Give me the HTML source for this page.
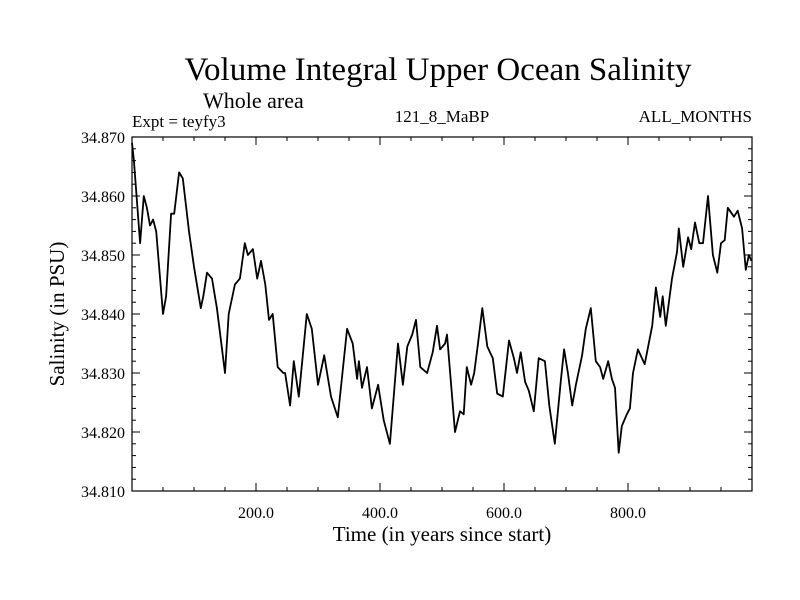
<!DOCTYPE html>
<html><head><meta charset="utf-8"><style>
body{margin:0;background:#fff}
svg{display:block;font-family:"Liberation Serif",serif}
</style></head><body>
<svg id="chart" width="800" height="600" viewBox="0 0 800 600">
<rect width="800" height="600" fill="#fff"/>
<text x="438" y="80" font-size="33" text-anchor="middle">Volume Integral Upper Ocean Salinity</text>
<text x="203" y="108" font-size="22">Whole area</text>
<text x="132" y="127" font-size="17">Expt = teyfy3</text>
<text x="442" y="122" font-size="17" text-anchor="middle">121_8_MaBP</text>
<text x="752" y="122" font-size="17" text-anchor="end">ALL_MONTHS</text>
<text x="442" y="541" font-size="21" text-anchor="middle">Time (in years since start)</text>
<text transform="translate(64,314) rotate(-90)" font-size="21" text-anchor="middle">Salinity (in PSU)</text>
<g id="axes"></g>
<path id="series" fill="none" stroke="#000" stroke-width="1.8" stroke-linejoin="round"/>
<rect x="132" y="137" width="620" height="354" fill="none" stroke="#000" stroke-width="1.2"/>
</svg>
<script>
const years=[0,3,8,13,19,24,29,34,39,50,55,63,68,76,82,92,100,111,115,121,129,137,150,156,166,174,182,187,195,202,208,215,221,227,235,244,247,255,261,269,282,290,300,310,321,332,347,356,363,366,371,379,387,397,406,416,429,437,444,452,458,465,476,485,492,497,505,508,521,529,535,540,547,552,558,565,573,582,589,598,608,616,621,627,634,640,648,656,666,673,682,692,697,703,710,716,726,732,740,748,755,760,768,774,779,785,790,798,803,808,816,827,839,845,852,856,861,871,879,882,889,897,902,908,915,921,929,937,944,950,956,961,971,977,984,990,995,999];
const salinity=[34.869,34.866,34.859,34.852,34.860,34.858,34.855,34.856,34.854,34.840,34.843,34.857,34.857,34.864,34.863,34.854,34.848,34.841,34.843,34.847,34.846,34.841,34.830,34.840,34.845,34.846,34.852,34.850,34.851,34.846,34.849,34.845,34.839,34.840,34.831,34.830,34.830,34.8245,34.832,34.826,34.840,34.8375,34.828,34.833,34.826,34.8225,34.8375,34.835,34.829,34.832,34.8275,34.831,34.824,34.828,34.822,34.818,34.835,34.828,34.8345,34.8365,34.839,34.831,34.830,34.8335,34.838,34.834,34.835,34.8365,34.820,34.8235,34.823,34.831,34.828,34.830,34.835,34.841,34.8345,34.8325,34.8265,34.826,34.8355,34.8325,34.830,34.8335,34.8285,34.827,34.8235,34.8325,34.832,34.8245,34.818,34.829,34.834,34.830,34.8245,34.828,34.833,34.8375,34.841,34.832,34.831,34.829,34.832,34.829,34.8275,34.8165,34.821,34.823,34.824,34.830,34.834,34.8315,34.838,34.8445,34.8395,34.843,34.838,34.846,34.8505,34.8545,34.848,34.853,34.851,34.8555,34.852,34.852,34.860,34.850,34.847,34.852,34.8525,34.858,34.8565,34.8575,34.8545,34.8475,34.850,34.849];
const xTickValues=[200,400,600,800];
const xTickLabels=["200.0","400.0","600.0","800.0"];
const yTickValues=[34.81,34.82,34.83,34.84,34.85,34.86,34.87];
const yTickLabels=["34.810","34.820","34.830","34.840","34.850","34.860","34.870"];

const X0=132,X1=752,Y0=491,Y1=137;
function xs(v){return X0+(v-0)/(1000-0)*(X1-X0);}
function ys(v){return Y0-(v-34.81)/(34.87-34.81)*(Y0-Y1);}
const NS="http://www.w3.org/2000/svg";
const g=document.getElementById('axes');
function line(x1,y1,x2,y2,name){
  const l=document.createElementNS(NS,'line');
  l.setAttribute('x1',x1);l.setAttribute('y1',y1);l.setAttribute('x2',x2);l.setAttribute('y2',y2);
  l.setAttribute('stroke','#000');l.setAttribute('stroke-width','1');
  
  
  g.appendChild(l);
}
function text(x,y,s,anchor,name){
  const t=document.createElementNS(NS,'text');
  t.setAttribute('x',x);t.setAttribute('y',y);t.setAttribute('font-size','16');t.setAttribute('text-anchor',anchor);
  t.textContent=s;
  
  
  g.appendChild(t);
}
for(let v=50;v<1000;v+=50){
  const major=v%200===0;const L=major?8:4;const x=xs(v);
  line(x,Y0,x,Y0-L,'x-tick');
  line(x,Y1,x,Y1+L,'x-tick-top');
}
for(let i=0;i<=30;i++){
  const v=34.81+i*0.002;const major=i%5===0;const L=major?8:4;const y=ys(v);
  line(X0,y,X0+L,y,'y-tick');
  line(X1,y,X1-L,y,'y-tick-right');
}
xTickValues.forEach((v,i)=>text(xs(v),Y0+27,xTickLabels[i],'middle','x-tick-label'));
yTickValues.forEach((v,i)=>text(X0-7,ys(v)+6,yTickLabels[i],'end','y-tick-label'));
let d='';
years.forEach((yr,i)=>{d+=(i?'L':'M')+xs(yr).toFixed(1)+' '+ys(salinity[i]).toFixed(1);});
document.getElementById('series').setAttribute('d',d);
</script>
</body></html>
